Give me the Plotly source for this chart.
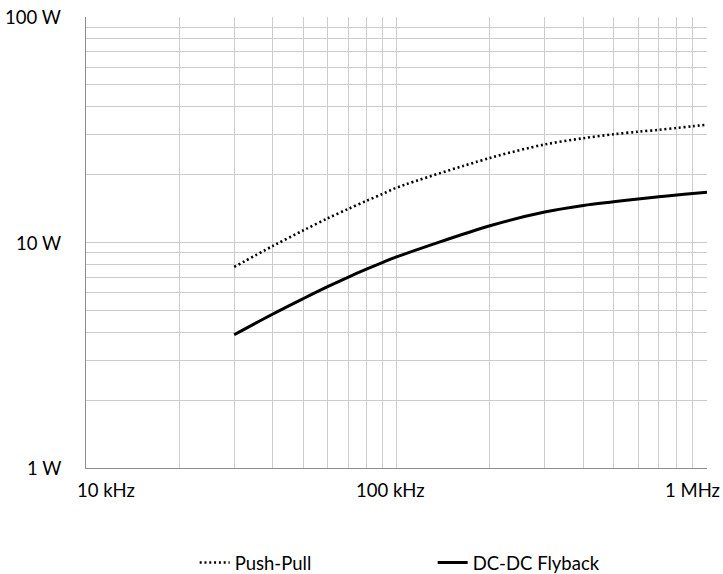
import math
import plotly.graph_objects as go

# Data (frequency in kHz, power in W)
freq_khz = [30, 40, 50, 60, 70, 80, 90, 100, 200, 300, 400, 500, 600, 700, 800, 900, 1000]
push_pull_w = [7.79, 9.66, 11.3, 12.8, 14.1, 15.3, 16.4, 17.5, 23.7, 27.2, 29.0, 30.2, 31.0, 31.6, 32.2, 32.8, 33.3]
flyback_w = [3.90, 4.82, 5.63, 6.37, 7.03, 7.62, 8.15, 8.63, 11.87, 13.65, 14.6, 15.15, 15.6, 15.95, 16.25, 16.5, 16.7]

series_names = ["Push-Pull", "DC-DC Flyback"]
x_tick_vals = [10, 100, 1000]
x_tick_text = ["10 kHz", "100 kHz", "1 MHz"]
y_tick_vals = [1, 10, 100]
y_tick_text = ["1 W", "10 W", "100 W"]

FONT = "Lato"
FS = 18.5
GRID = "#CCCCCC"
AXIS = "#8C8C8C"

fig = go.Figure()
fig.add_trace(go.Scatter(x=freq_khz, y=push_pull_w, mode="lines", name=series_names[0],
                         line=dict(color="black", width=2.6, dash="2px,2.8px", shape="spline", smoothing=0.9)))
fig.add_trace(go.Scatter(x=freq_khz, y=flyback_w, mode="lines", name=series_names[1],
                         line=dict(color="black", width=3, shape="spline", smoothing=0.9)))

grid_x = [m * 10 ** e for e in (1, 2) for m in range(1, 10)] + [1000]
grid_y = [m * 10 ** e for e in (0, 1) for m in range(1, 10)] + [100]

fig.update_xaxes(type="log", range=[1, 3], tickvals=grid_x, showticklabels=False,
                 showgrid=True, gridcolor=GRID, gridwidth=1, zeroline=False,
                 showline=True, linecolor=AXIS, linewidth=1, ticks="")
fig.update_yaxes(type="log", range=[0, 2], tickvals=grid_y, showticklabels=False,
                 showgrid=True, gridcolor=GRID, gridwidth=1, zeroline=False,
                 showline=True, linecolor=AXIS, linewidth=1, ticks="")

x_shifts = [20, -6, -15]
for v, t, s in zip(x_tick_vals, x_tick_text, x_shifts):
    fig.add_annotation(x=math.log10(v), y=0, xref="x", yref="paper",
                       text=t, showarrow=False, xanchor="center", yanchor="middle",
                       xshift=s, yshift=-22, font=dict(family=FONT, size=FS, color="black"))
for v, t in zip(y_tick_vals, y_tick_text):
    fig.add_annotation(x=0, y=math.log10(v), xref="paper", yref="y",
                       text=t, showarrow=False, xanchor="right", yanchor="middle",
                       xshift=-23, font=dict(family=FONT, size=FS, color="black"))

fig.update_layout(
    width=723, height=574,
    margin=dict(l=86, r=16, t=17, b=106, autoexpand=False),
    paper_bgcolor="white", plot_bgcolor="white",
    font=dict(family=FONT, size=FS, color="black"),
    showlegend=True,
    hovermode=False,
    legend=dict(orientation="h", x=0.175, xanchor="left", y=-0.2106, yanchor="middle",
                entrywidth=193, font=dict(family=FONT, size=FS, color="black"),
                bgcolor="rgba(0,0,0,0)"),
)

fig.write_html("out.html", config={"displayModeBar": False},
               post_script="document.body.style.margin='0';")
